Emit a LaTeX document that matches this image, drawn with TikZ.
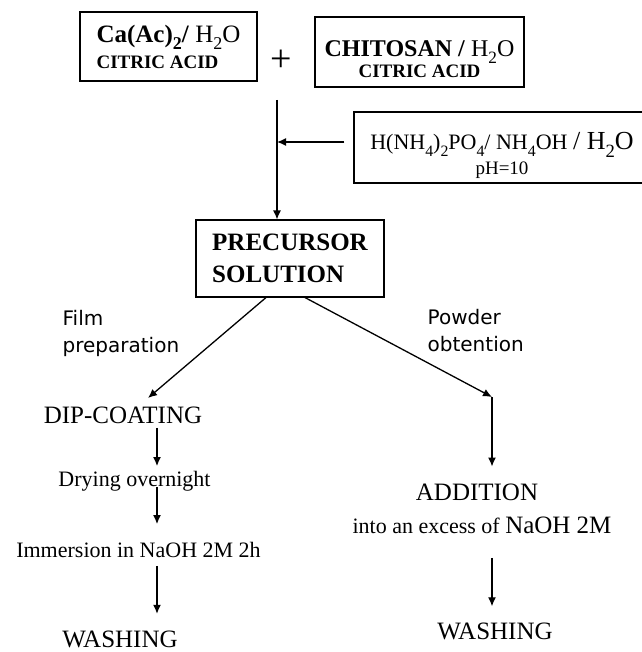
\documentclass[tikz,border=0pt]{standalone}
\usepackage{fontspec}
\setmainfont{Liberation Serif}
\newfontfamily\handfont{DejaVu Sans}
\usetikzlibrary{arrows.meta,calc}

\newcommand{\fs}[2]{\fontsize{#1}{#2}\selectfont}
\newcommand{\low}[1]{\raisebox{-0.3em}{\scalebox{0.72}{#1}}}
\newcommand{\pad}[1]{\rule{0pt}{#1}}

\begin{document}
\begin{tikzpicture}[x=1pt,y=-1pt,line width=1.3pt,>={Latex[length=9pt,width=8pt]},
  box/.style={draw,line width=1.1pt,inner sep=0pt},
  lbl/.style={inner sep=0pt,anchor=base},
  note/.style={inner sep=0pt,anchor=base west,align=left,font=\handfont\fs{20}{27}},
  a/.style={->}]
  \useasboundingbox (0,0) rectangle (641,652);
  % starting solutions
  \node[box,minimum width=177pt,minimum height=69pt,align=left,font=\fs{19}{26}] (caac) at (168.5,46.5)
    {{\fs{25}{26}\textbf{Ca(Ac)\low{2}/} H\low{2}O}\\\textbf{CITRIC ACID}};
  \node[font=\fs{38}{38}] (plus) at (281,61) {+};
  \node[box,minimum width=209pt,minimum height=70pt,align=center,font=\fs{19}{21}] (chit) at (419.5,52)
    {{\fs{24}{21}\pad{30pt}\textbf{CHITOSAN /} H\low{2}O}\\\textbf{CITRIC ACID}};
  \node[box,minimum width=296pt,minimum height=71pt,align=center,font=\fs{19}{25}] (nh4) at (502,147.5)
    {{\fs{22}{25}\pad{33pt}H(NH\low{4})\low{2}PO\low{4}/ NH\low{4}OH {\fs{26}{25}/ H\low{2}O}}\\pH=10};
  \node[box,minimum width=188pt,minimum height=77pt,align=left,font=\bfseries\fs{25}{32}] (prec) at (290,258.5)
    {PRECURSOR\\SOLUTION};
  % branch labels
  \node[note] (film) at (62,352) {Film\\preparation};
  \node[note] (powder) at (427,351) {Powder\\obtention};
  % film route
  \node[lbl,font=\fs{25}{25}] (dip) at (123,423) {DIP-COATING};
  \node[lbl,font=\fs{22}{22}] (dry) at (134.5,486) {Drying overnight};
  \node[lbl,font=\fs{22}{22}] (imm) at (138.5,557) {Immersion in NaOH 2M 2h};
  \node[lbl,font=\fs{25}{25}] (wl) at (120,647) {WASHING};
  % powder route
  \node[lbl,font=\fs{25}{25}] (add) at (477,500.7) {ADDITION};
  \node[lbl,font=\fs{22}{22}] (exc) at (482,533) {into an excess of {\fs{25}{25}NaOH 2M}};
  \node[lbl,font=\fs{25}{25}] (wr) at (495,639) {WASHING};
  \coordinate (top) at (277,100);
  \coordinate (join) at (277,142);
  \coordinate (fend) at (148,398);
  \coordinate (bend) at (492,397);
  \coordinate (lx) at (157,0);
  \draw[a] (top) -- (top |- prec.north);
  \draw[a,shorten <=9pt] (nh4.west |- join) -- (join);
  \draw[a] ($(prec.south)+(-24,0)$) -- (fend);
  \draw[a] ($(prec.south)+(15,0)$) -- (bend);
  \draw[a,shorten >=17pt] (bend) -- (bend |- add.north);
  \draw[a,shorten <=4pt,shorten >=4pt] (dip.south -| lx) -- (dry.north -| lx);
  \draw[a,shorten <=-4pt,shorten >=17pt] (dry.south -| lx) -- (imm.north -| lx);
  \draw[a,shorten <=8pt,shorten >=16pt] (imm.south -| lx) -- (wl.north -| lx);
  \draw[a,shorten <=24pt,shorten >=15.5pt] (exc.south -| bend) -- (wr.north -| bend);
\end{tikzpicture}
\end{document}
